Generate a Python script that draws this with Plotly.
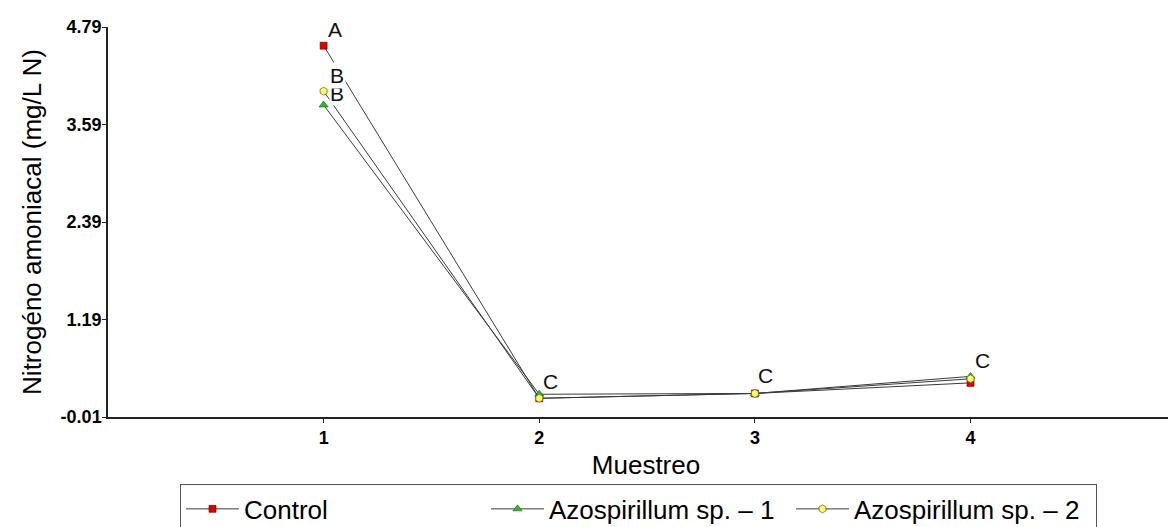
import plotly.graph_objects as go

muestreo = [1, 2, 3, 4]
control = [4.56, 0.22, 0.28, 0.41]
azo1 = [3.83, 0.27, 0.28, 0.49]
azo2 = [4.00, 0.22, 0.28, 0.46]
y_ticks = [-0.01, 1.19, 2.39, 3.59, 4.79]
# (letter, x, y of the point it labels, xshift, yshift) - lower B first so the upper one covers it
letters = [("A", 1, 4.56, 11, 16), ("B", 1, 3.83, 13, 12), ("B", 1, 4.00, 13, 16),
           ("C", 2, 0.22, 11, 17), ("C", 3, 0.28, 11, 18), ("C", 4, 0.46, 12, 18)]

FONT = "Liberation Sans, Arial, sans-serif"
LINE = "#3a3a3a"

fig = go.Figure()
fig.add_trace(go.Scatter(x=muestreo, y=control, name="Control", mode="lines+markers",
                         line=dict(color=LINE, width=1),
                         marker=dict(symbol="square", size=7, color="#e00000",
                                     line=dict(color="#600000", width=0.6))))
fig.add_trace(go.Scatter(x=muestreo, y=azo1, name="Azospirillum sp. – 1", mode="lines+markers",
                         line=dict(color=LINE, width=1),
                         marker=dict(symbol="triangle-up", size=8, color="#2db82d",
                                     line=dict(color="#1d5a1d", width=0.6))))
fig.add_trace(go.Scatter(x=muestreo, y=azo2, name="Azospirillum sp. – 2", mode="lines+markers",
                         line=dict(color=LINE, width=1),
                         marker=dict(symbol="hexagon", size=8, color="#ffff66",
                                     line=dict(color="#6b6b2a", width=0.8))))

for i, (t, xv, yv, dx, dy) in enumerate(letters):
    fig.add_annotation(x=xv, y=yv, xref="x", yref="y", text=t, showarrow=False,
                       xshift=dx, yshift=dy,
                       font=dict(family=FONT, size=21, color="#111"),
                       bgcolor="white" if t == "B" else None,
                       borderpad=1 if i == 2 else 0)

# the page body adds an 8px offset, so margins are reduced by 8px to compensate
fig.update_layout(
    width=1176, height=527,
    margin=dict(l=100, r=0, t=19, b=118, autoexpand=False),
    paper_bgcolor="white", plot_bgcolor="white",
    font=dict(family=FONT, color="black"),
    showlegend=True,
    legend=dict(orientation="h", x=(172 - 100) / 1076, y=-0.173, xanchor="left", yanchor="top",
                bordercolor="#555", borderwidth=1,
                font=dict(family=FONT, size=26),
                entrywidth=237, entrywidthmode="pixels", itemwidth=53,
                tracegroupgap=0),
    xaxis=dict(range=[0, 4.99], tickvals=muestreo, ticktext=[f"<b>{v}</b>" for v in muestreo],
               showgrid=False, zeroline=False, showline=True, linecolor="#222", linewidth=1.5,
               ticks="outside", ticklen=4, tickcolor="#222", automargin=False,
               tickfont=dict(family=FONT, size=18, color="black"),
               title=dict(text="Muestreo", font=dict(family=FONT, size=26), standoff=8)),
    yaxis=dict(range=[-0.01, 4.79], tickvals=y_ticks, ticktext=[f"<b>{v:.2f}</b>" for v in y_ticks],
               showgrid=False, zeroline=False, showline=True, linecolor="#222", linewidth=1.5,
               ticks="outside", ticklen=4, tickcolor="#222", automargin=False,
               ticklabelstandoff=-3,
               tickfont=dict(family=FONT, size=18, color="black"),
               title=dict(text="Nitrogéno amoniacal (mg/L N)", font=dict(family=FONT, size=26),
                          standoff=12)),
)

fig.write_html("out.html")
